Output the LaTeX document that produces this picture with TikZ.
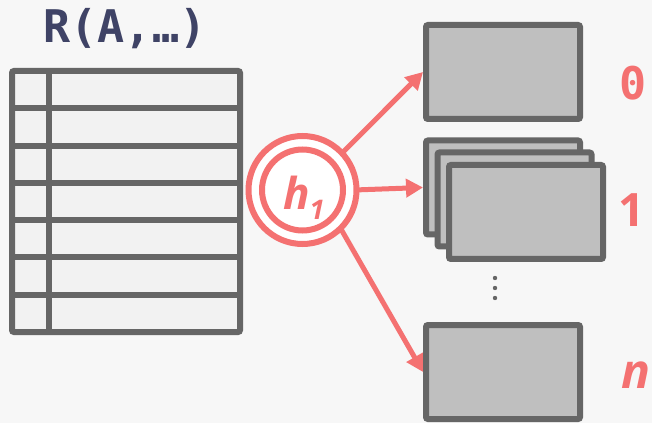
\documentclass[tikz,border=0pt]{standalone}
\usepackage{fontspec}
\usetikzlibrary{arrows.meta,calc}
\newfontfamily\monofont{DejaVu Sans Mono}
\newfontfamily\itfont{Open Sans}
\definecolor{bgc}{HTML}{F7F7F7}
\definecolor{redc}{HTML}{F47171}
\definecolor{grayc}{HTML}{666666}
\definecolor{boxc}{HTML}{BFBFBF}
\definecolor{tblc}{HTML}{F2F2F2}
\definecolor{titlec}{HTML}{3F4366}
\begin{document}
\begin{tikzpicture}[x=1pt,y=1pt,
  bucket/.style={draw=grayc,fill=boxc,line width=6pt,rounded corners=2pt,minimum width=154pt,minimum height=94pt,inner sep=0pt},
  arr/.style={draw=redc,line width=5pt,-{Triangle[length=17pt,width=18pt]}},
  monolab/.style={anchor=base,inner sep=0pt,font=\monofont\bfseries\fontsize{45}{45}\selectfont},
  itlab/.style={anchor=base,inner sep=0pt,text=redc,font=\itfont\bfseries\itshape\fontsize{44}{44}\selectfont}]
\fill[bgc] (0,0) rectangle (652,423);
\useasboundingbox (0,0) rectangle (652,423);
% title
\node[monolab,text=titlec] (title) at (125,380) {R(A,…)};
% table
\node[draw=grayc,fill=tblc,line width=6pt,minimum width=228pt,minimum height=261pt,inner sep=0pt,outer sep=0pt,rounded corners=2pt] (tbl) at (126,221.5) {};
\foreach \k in {1,...,6}
  \draw[grayc,line width=6pt] ($(tbl.north west)+(0,-37.29*\k)$) -- ($(tbl.north east)+(0,-37.29*\k)$);
\draw[grayc,line width=6pt] ($(tbl.north west)+(37.3,0)$) -- ($(tbl.south west)+(37.3,0)$);
% hash function
\node[circle,draw=redc,fill=white,line width=6pt,minimum size=108pt,inner sep=0pt] (h) at (302.5,233) {};
\draw[redc,line width=6pt] (h.center) circle (40.5);
\node[itlab] (hlab) at (296.5,213) {h};
\node[itlab,font=\itfont\bfseries\itshape\fontsize{27}{27}\selectfont] (hsub) at (317,203) {1};
% buckets
\node[bucket] (b0) at (503,351) {};
\node[bucket] (bA) at (503,235.5) {};
\node[bucket] (bB) at (514.5,223.5) {};
\node[bucket] (bC) at (526,211) {};
\node[bucket] (bn) at (503,51) {};
\foreach \yy in {145,135,125} \fill[grayc] (495,\yy) circle (2.2);
% labels
\node[monolab,text=redc] (l0) at (633.5,323) {0};
\node[anchor=base,inner sep=0pt,text=redc,font=\itfont\bfseries\fontsize{46}{46}\selectfont] (l1) at (632,196) {1};
\node[itlab,font=\itfont\bfseries\itshape\fontsize{48}{48}\selectfont] (ln) at (636,35) {n};
% arrows
\draw[arr] ([shift={(43:52)}]h.center) -- (b0.west);
\draw[arr] ([shift={(0:52)}]h.center) -- (bA.west);
\draw[arr] ([shift={(-44.6:52)}]h.center) -- (bn.west);
\end{tikzpicture}
\end{document}
